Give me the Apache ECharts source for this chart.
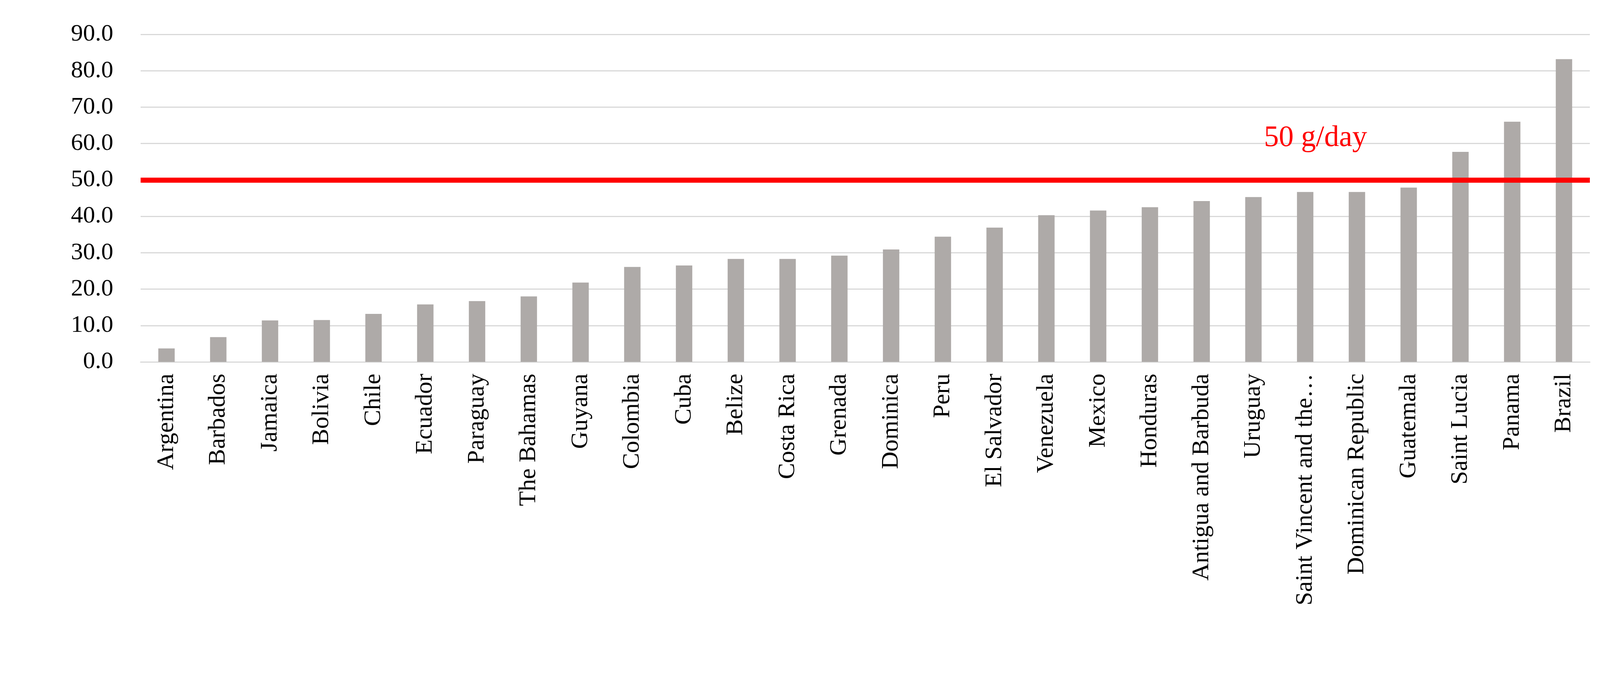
<!DOCTYPE html>
<html>
<head>
<meta charset="utf-8">
<script src="https://cdn.jsdelivr.net/npm/echarts@6/dist/echarts.min.js"></script>
<style>html,body{margin:0;background:#fff;}#c{width:4163px;height:1729px;}</style>
</head>
<body>
<div id="c"></div>
<script>
var countries = ["Argentina","Barbados","Jamaica","Bolivia","Chile","Ecuador","Paraguay","The Bahamas","Guyana","Colombia","Cuba","Belize","Costa Rica","Grenada","Dominica","Peru","El Salvador","Venezuela","Mexico","Honduras","Antigua and Barbuda","Uruguay","Saint Vincent and the\u2026","Dominican Republic","Guatemala","Saint Lucia","Panama","Brazil"];
var intake = [3.7,6.8,11.4,11.5,13.2,15.8,16.7,18.0,21.8,26.1,26.5,28.3,28.3,29.2,30.9,34.4,36.9,40.3,41.6,42.5,44.2,45.3,46.7,46.7,47.9,57.7,66.0,83.2];
var limit = 50;
var font = "'Liberation Serif','DejaVu Serif',serif";

var chart = echarts.init(document.getElementById('c'));
chart.setOption({
  animation: false,
  grid: {left: 360, right: 93, top: 88, bottom: 802},
  xAxis: {
    type: 'category', data: countries,
    axisLine: {lineStyle: {color: '#d9d9d9', width: 3}},
    axisTick: {show: false},
    axisLabel: {rotate: 90, interval: 0, fontFamily: font, fontSize: 62, color: '#000', margin: 30}
  },
  yAxis: {
    type: 'value', min: 0, max: 90, interval: 10,
    axisLine: {show: false}, axisTick: {show: false},
    splitLine: {lineStyle: {color: '#d9d9d9', width: 3}},
    axisLabel: {formatter: function (v) { return v.toFixed(1); }, fontFamily: font, fontSize: 62, color: '#000', margin: 70}
  },
  series: [{
    type: 'bar', data: intake, barWidth: 42,
    itemStyle: {color: '#aeaaa8'},
    markLine: {
      symbol: 'none', silent: true,
      label: {show: false},
      lineStyle: {color: '#ff0000', width: 13, type: 'solid'},
      data: [{yAxis: limit}]
    }
  }]
});
var a = chart.convertToPixel({xAxisIndex: 0, yAxisIndex: 0}, [22, 61.5]);
var b = chart.convertToPixel({xAxisIndex: 0, yAxisIndex: 0}, [23, 61.5]);
chart.setOption({
  graphic: [{type: 'text', x: a[0] + 0.2 * (b[0] - a[0]), y: a[1], style: {text: '50 g/day', fill: '#ff0000', font: '76px ' + font, align: 'center', verticalAlign: 'middle'}}]
});
</script>
</body>
</html>
